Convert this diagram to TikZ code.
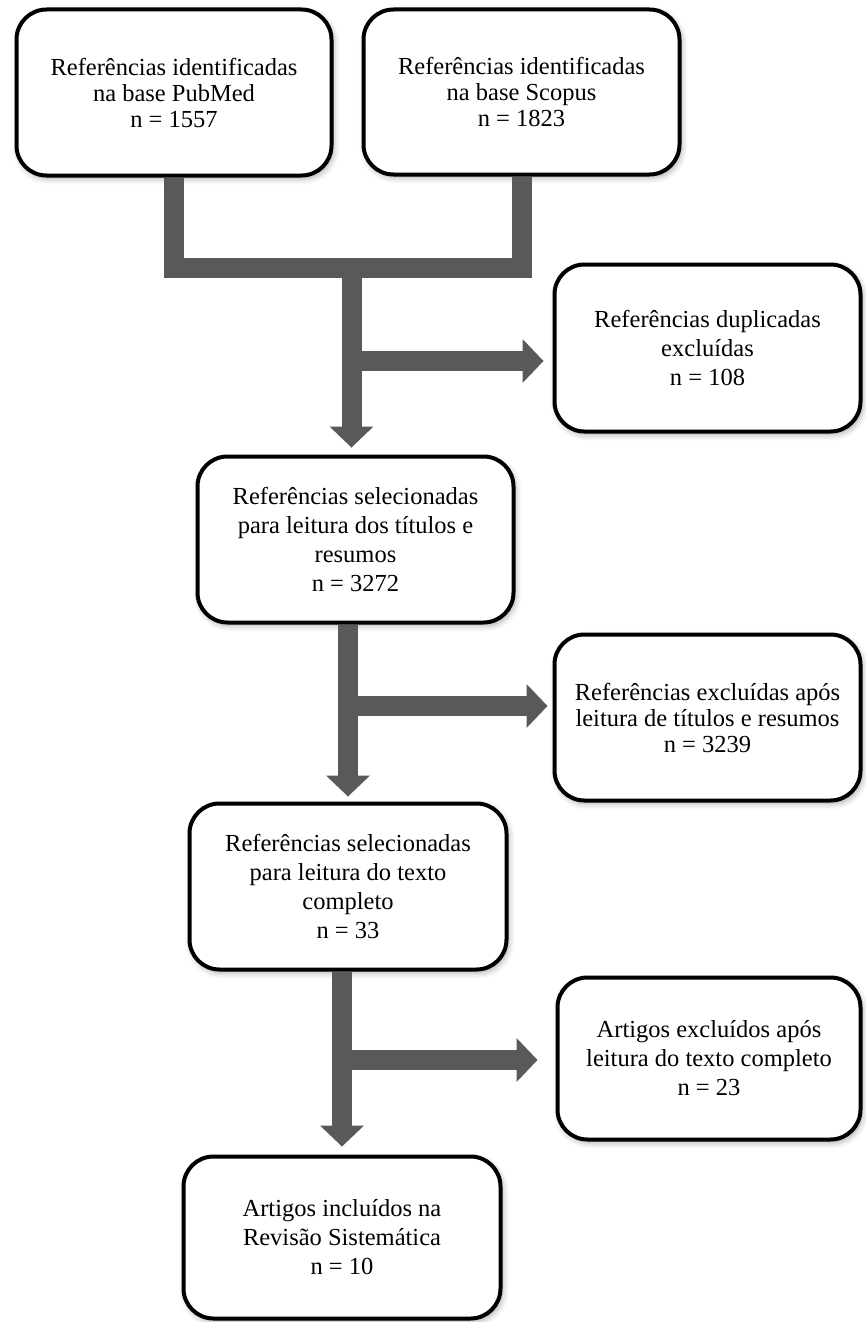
\documentclass[tikz,border=0pt]{standalone}
\usepackage{fontspec}
\setmainfont{Liberation Serif}
\usetikzlibrary{arrows.meta,shadows.blur}
\definecolor{bargray}{HTML}{595959}
\tikzset{
  box/.style={draw=black,line width=4pt,rounded corners=30pt,fill=white,
    align=center,inner sep=0pt,font=\fontsize{24.5}{29}\selectfont,
    blur shadow={shadow xshift=2pt,shadow yshift=-3pt,shadow blur radius=6pt,shadow opacity=35}},
  tight/.style={font=\fontsize{24.5}{26}\selectfont},
  fat/.style={draw=bargray,line width=20pt,line join=miter},
  fatarrow/.style={fat,-{Triangle[length=21pt 0 0,width=44pt 0 0,line width=0pt]}}
}
\begin{document}
\begin{tikzpicture}[x=1pt,y=-1pt]
  \useasboundingbox (0,0) rectangle (865,1322);
  % caixas
  \node[box,tight,minimum width=315pt,minimum height=166pt] (pubmed) at (174,92.5)
    {Referências identificadas\\na base PubMed\\n = 1557};
  \node[box,tight,minimum width=316pt,minimum height=165pt] (scopus) at (521.5,92)
    {Referências identificadas\\na base Scopus\\n = 1823};
  \node[box,minimum width=306pt,minimum height=167pt] (dup) at (707.5,348)
    {Referências duplicadas\\excluídas\\n = 108};
  \node[box,minimum width=316pt,minimum height=166pt] (selA) at (355.5,539.5)
    {Referências selecionadas\\para leitura dos títulos e\\resumos\\n = 3272};
  \node[box,tight,minimum width=306pt,minimum height=166pt] (excA) at (707.5,717.5)
    {Referências excluídas após\\leitura de títulos e resumos\\n = 3239};
  \node[box,minimum width=317pt,minimum height=166pt] (selB) at (348,886.5)
    {Referências selecionadas\\para leitura do texto\\completo\\n = 33};
  \node[box,minimum width=303pt,minimum height=162pt] (excB) at (709,1058.5)
    {Artigos excluídos após\\leitura do texto completo\\n = 23};
  \node[box,minimum width=317pt,minimum height=162pt] (incl) at (342,1237.5)
    {Artigos incluídos na\\Revisão Sistemática\\n = 10};
  % setas
  \coordinate (j1) at (351.5,268);
  \coordinate (b1) at (351.5,361);
  \coordinate (b2) at (349,706);
  \coordinate (b3) at (342.5,1060);
  \draw[fat] (pubmed.south) -- (pubmed.south |- j1) -- (scopus.south |- j1) -- (scopus.south);
  \draw[fatarrow,shorten >=7pt] ([yshift=-10pt]j1) -- (j1 |- selA.north);
  \draw[fatarrow,shorten >=9pt] (b1) -- (b1 -| dup.west);
  \draw[fatarrow,shorten >=5pt] (selA.south -| selB.north) -- (selB.north);
  \draw[fatarrow,shorten >=5pt] (b2) -- (b2 -| excA.west);
  \draw[fatarrow,shorten >=8pt] (selB.south -| incl.north) -- (incl.north);
  \draw[fatarrow,shorten >=18pt] (b3) -- (b3 -| excB.west);
\end{tikzpicture}
\end{document}
